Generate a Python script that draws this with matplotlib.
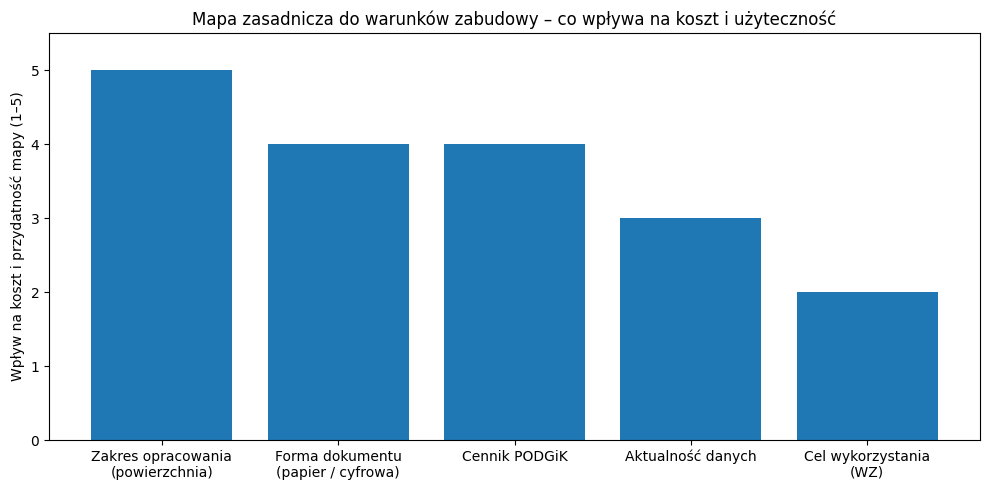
import matplotlib
matplotlib.use("Agg")
import matplotlib.pyplot as plt

categories = ["Zakres opracowania\n(powierzchnia)", "Forma dokumentu\n(papier / cyfrowa)",
              "Cennik PODGiK", "Aktualność danych", "Cel wykorzystania\n(WZ)"]
values = [5, 4, 4, 3, 2]

fig, ax = plt.subplots(figsize=(9.89, 4.9), dpi=100)
ax.bar(categories, values, color="#1f77b4")
ax.set_ylim(0, 5.5)
ax.set_ylabel("Wpływ na koszt i przydatność mapy (1–5)")
ax.set_title("Mapa zasadnicza do warunków zabudowy – co wpływa na koszt i użyteczność")
fig.subplots_adjust(left=49/989, right=980/989, top=1-33/490, bottom=1-440/490)
fig.savefig("out.png", dpi=100)
